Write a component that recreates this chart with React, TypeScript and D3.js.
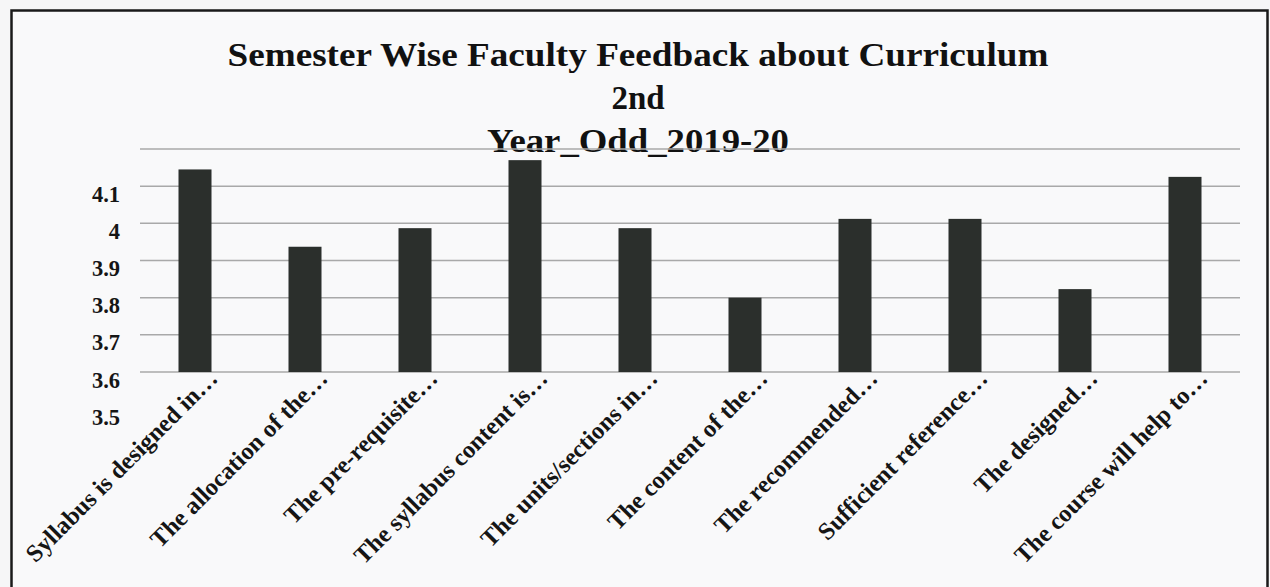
import * as React from "react";
import { scaleBand, scaleLinear } from "d3";

// chart values
const categories = [
  "Syllabus is designed in…",
  "The allocation of the…",
  "The pre-requisite…",
  "The syllabus content is…",
  "The units/sections in…",
  "The content of the…",
  "The recommended…",
  "Sufficient reference…",
  "The designed…",
  "The course will help to…",
];
const scores = [4.145, 3.937, 3.987, 4.17, 3.987, 3.8, 4.012, 4.012, 3.823, 4.125];
const gridValues = [3.6, 3.7, 3.8, 3.9, 4.0, 4.1, 4.2];
const tickLabels = ["3.5", "3.6", "3.7", "3.8", "3.9", "4", "4.1"];
const titleLines = [
  "Semester Wise Faculty Feedback about Curriculum",
  "2nd",
  "Year_Odd_2019-20",
];
// widths the scan shows for each title line (0 = natural width)
const titleWidths = [821, 0, 302];

const W = 1270;
const H = 587;
const plot = { left: 140, right: 1240, top: 149, bottom: 372 };
const font = "'Liberation Serif', 'Times New Roman', serif";

const App = () => {
  const x = scaleBand<string>()
    .domain(categories)
    .range([plot.left, plot.right])
    .paddingInner(0.7)
    .paddingOuter(0.35);
  const y = scaleLinear().domain([3.6, 4.2]).range([plot.bottom, plot.top]);

  return (
    <svg
      width={W}
      height={H}
      style={{ position: "absolute", left: 0, top: 0, background: "#f6f6f7" }}
    >
      <rect x={0} y={0} width={W} height={H} fill="#f6f6f7" />
      <rect
        x={11.5}
        y={10.5}
        width={1256}
        height={620}
        fill="#f9f9fa"
        stroke="#1a1a1a"
        strokeWidth={2.5}
      />

      {/* title */}
      <g fontFamily={font} fontWeight="bold" fontSize={33} fill="#111" textAnchor="middle">
        {titleLines.map((t, i) => (
          <text
            key={t}
            x={638}
            y={66 + i * 43}
            textLength={titleWidths[i] || undefined}
            lengthAdjust={titleWidths[i] ? "spacingAndGlyphs" : undefined}
          >
            {t}
          </text>
        ))}
      </g>

      {/* gridlines */}
      {gridValues.map(v => (
        <line
          key={v}
          x1={plot.left}
          x2={plot.right}
          y1={y(v)}
          y2={y(v)}
          stroke="#a9a9a9"
          strokeWidth={1.5}
        />
      ))}

      {/* y labels (sit a little below their lines, as in the scan) */}
      {tickLabels.map(t => (
        <text
          key={t}
          x={120}
          y={y(+t) + 15.5}
          textAnchor="end"
          fontFamily={font}
          fontWeight="bold"
          fontSize={22.5}
          fill="#151515"
        >
          {t}
        </text>
      ))}

      {/* bars */}
      {categories.map((c, i) => (
        <rect
          key={c}
          x={x(c)}
          y={y(scores[i])}
          width={x.bandwidth()}
          height={y(3.6) - y(scores[i])}
          fill="#2b2f2c"
        />
      ))}

      {/* category labels */}
      {categories.map(c => {
        const cx = (x(c) as number) + x.bandwidth() / 2;
        return (
          <text
            key={c}
            transform={`translate(${cx + 24},${380}) rotate(-45)`}
            textAnchor="end"
            fontFamily={font}
            fontWeight="bold"
            fontSize={24.5}
            fill="#151515"
          >
            {c}
          </text>
        );
      })}
    </svg>
  );
};

export default App;
